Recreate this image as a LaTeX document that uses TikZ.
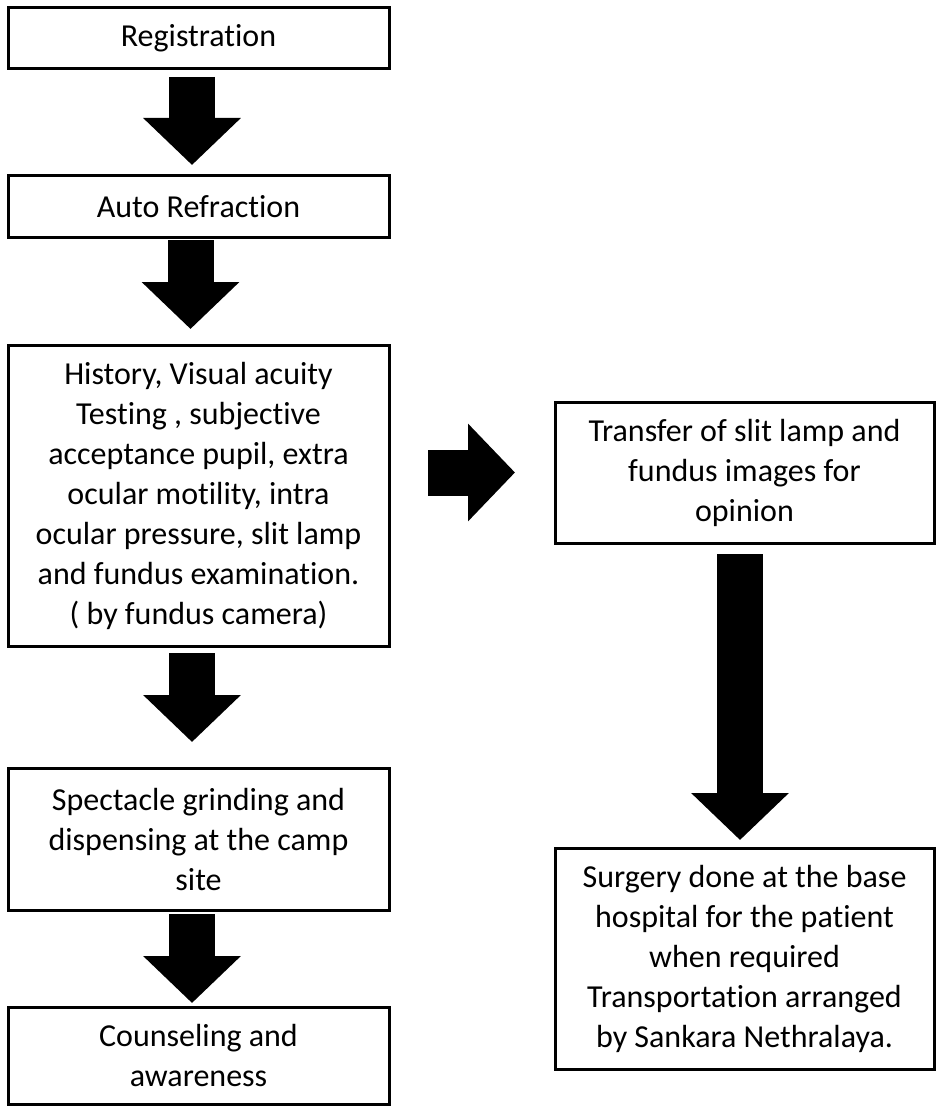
\documentclass[tikz,border=0pt]{standalone}
\usepackage{fontspec}
\setmainfont{Carlito}[Ligatures={NoCommon}]
\usetikzlibrary{arrows.meta,calc}
\begin{document}
\begin{tikzpicture}[x=1pt,y=-1pt,
  box/.style={draw=black,line width=3pt,rectangle,inner sep=0pt,outer sep=0pt,align=center,
    font=\fontsize{32}{40}\selectfont},
  blockarrow/.style={line width=46pt,draw=black,-{Triangle[width=95pt,length=47pt]}}]
\useasboundingbox[fill=white] (0,0) rectangle (938,1107);
\node[box,minimum width=381pt,minimum height=61pt] (reg) at (198.5,38.5) {Registration};
\node[box,minimum width=381pt,minimum height=62pt] (auto) at (198.5,207) {Auto Refraction};
\node[box,minimum width=381pt,minimum height=301pt] (hist) at (198.5,495.5)
  {History, Visual acuity\\Testing , subjective\\acceptance pupil, extra\\ocular motility, intra\\ocular pressure, slit lamp\\and fundus examination.\\( by fundus camera)};
\node[box,minimum width=381pt,minimum height=142pt] (spec) at (198.5,839)
  {Spectacle grinding and\\dispensing at the camp\\site};
\node[box,minimum width=381pt,minimum height=97pt] (couns) at (198.5,1055.5)
  {Counseling and\\awareness};
\node[box,minimum width=379pt,minimum height=141pt] (trans) at (744.5,472.5)
  {Transfer of slit lamp and\\fundus images for\\opinion};
\node[box,minimum width=379pt,minimum height=221pt] (surg) at (744.5,958.5)
  {Surgery done at the base\\hospital for the patient\\when required\\Transportation arranged\\by Sankara Nethralaya.};
\draw[blockarrow] ($(reg.south)+(-6.5,8)$) -- ($(auto.north)+(-6.5,-11)$);
\draw[blockarrow] ($(auto.south)+(-8,2)$) -- ($(hist.north)+(-8,-16)$);
\draw[blockarrow] ($(hist.south)+(-6.5,7)$) -- ($(spec.north)+(-6.5,-26)$);
\draw[blockarrow] ($(spec.south)+(-6.5,4)$) -- ($(couns.north)+(-6.5,-4)$);
\draw[blockarrow] ($(hist.east |- trans.west)+(39,0)$) -- ($(trans.west)+(-40,0)$);
\draw[blockarrow] ($(trans.south)+(-4.5,11)$) -- ($(surg.north)+(-4.5,-8)$);
\end{tikzpicture}
\end{document}
